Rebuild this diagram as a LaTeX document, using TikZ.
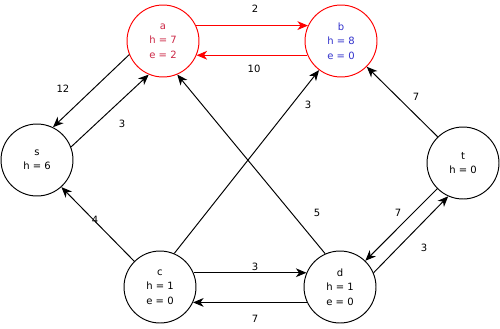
\documentclass[tikz,border=0pt]{standalone}
\usepackage{fontspec}
\setmainfont{DejaVu Sans}
\usetikzlibrary{arrows.meta}
\definecolor{atext}{RGB}{204,41,71}
\definecolor{btext}{RGB}{51,51,204}
\tikzset{vert/.style={circle,draw,minimum size=1.44cm,inner sep=0pt,align=center}}
\begin{document}
\begin{tikzpicture}[x=.02cm,y=-.02cm,line join=round,line width=.55pt,font=\fontsize{5.7}{8.25}\selectfont,>={Stealth[length=6pt,width=5pt,inset=1.8pt]}]
\useasboundingbox (0,0) rectangle (500,328);
% vertices
\foreach \x/\y/\n/\g in {37/160/s/{s\\h = 6},160/287/c/{c\\h = 1\\e = 0},340/287/d/{d\\h = 1\\e = 0},463/163/t/{t\\h = 0}}\node[vert](\n) at (\x,\y){\g};
\node[vert,draw=red,text=atext](a) at (163,41){a\\h = 7\\e = 2};
\node[vert,draw=red,text=btext](b) at (341,41){b\\h = 8\\e = 0};
% edges
\draw[red,->] (a.25)--(b.155);
\draw[red,->] (b.203)--(a.337);
\foreach \p/\q in {a.202/s.64,s.21/a.247,c.135/s.312,c.67/b.233,d.114/a.293,t.134/b.315,t.225/d.46,d.23/t.246,c.23/d.157,d.205/c.335}\draw[->](\p)--(\q);
% capacities
\foreach \x/\y/\g/\n in {255/9/2/cab,254/69/10/cba,63/89/12/cas,122/124/3/csa,95/220/4/ccs,308/105/3/ccb,317/213/5/cda,416/97/7/ctb,398/213/7/ctd,424/248/3/cdt,255/267/3/ccd,255/319/7/cdc}\node(\n) at (\x,\y){\g};
\end{tikzpicture}
\end{document}
